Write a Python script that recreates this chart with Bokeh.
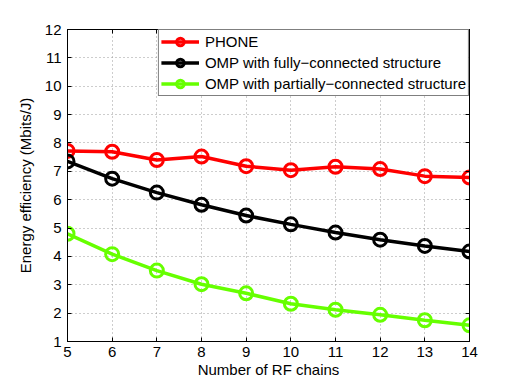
from bokeh.plotting import figure
from bokeh.models import LinearAxis, FixedTicker, Legend, LegendItem, Range1d, CustomJSTickFormatter
from bokeh.embed import file_html
from bokeh.resources import INLINE

rf_chains = [5, 6, 7, 8, 9, 10, 11, 12, 13, 14]
phone = [7.72, 7.69, 7.40, 7.52, 7.18, 7.04, 7.16, 7.08, 6.83, 6.78]
omp_full = [7.35, 6.74, 6.25, 5.82, 5.44, 5.13, 4.84, 4.59, 4.37, 4.17]
omp_partial = [4.80, 4.08, 3.50, 3.02, 2.70, 2.33, 2.12, 1.94, 1.75, 1.57]
x_ticks = [5, 6, 7, 8, 9, 10, 11, 12, 13, 14]
y_ticks = [1, 2, 3, 4, 5, 6, 7, 8, 9, 10, 11, 12]
names = ["PHONE", "OMP with fully\u2212connected structure", "OMP with partially\u2212connected structure"]
colors = ["#ff0000", "#000000", "#66ff00"]

FONT = "Liberation Sans"
FS = "15px"

p = figure(width=518, height=384, output_backend="svg", toolbar_location=None,
           x_range=Range1d(5, 14), y_range=Range1d(1, 12),
           frame_width=402, frame_height=312,
           min_border_left=67, min_border_top=29, min_border_right=49, min_border_bottom=43,
           x_axis_label="Number of RF chains", y_axis_label="Energy efficiency (Mbits/J)")
p.outline_line_color = "black"
p.outline_line_width = 1
p.background_fill_color = "white"
p.border_fill_color = "white"

for ax in [p.xaxis[0], p.yaxis[0]]:
    ax.major_tick_in = 4
    ax.major_tick_out = 0
    ax.minor_tick_line_color = None
    ax.axis_line_color = "black"
    ax.major_tick_line_color = "black"
    ax.major_label_text_font = FONT
    ax.major_label_text_font_size = FS
    ax.major_label_text_color = "black"
    ax.axis_label_text_font = FONT
    ax.axis_label_text_font_size = FS
    ax.axis_label_text_font_style = "normal"
    ax.axis_label_text_color = "black"
p.xaxis[0].ticker = FixedTicker(ticks=x_ticks)
p.yaxis[0].ticker = FixedTicker(ticks=y_ticks)
p.xaxis[0].major_label_standoff = 5
p.xaxis[0].axis_label_standoff = 1
p.yaxis[0].major_label_standoff = 6
p.yaxis[0].axis_label_standoff = 8

blank = CustomJSTickFormatter(code="return '';")
top = LinearAxis(ticker=FixedTicker(ticks=x_ticks), formatter=blank,
                 major_tick_in=4, major_tick_out=0, minor_tick_line_color=None, axis_line_color="black",
                 major_label_standoff=0)
right = LinearAxis(ticker=FixedTicker(ticks=y_ticks), formatter=blank,
                   major_tick_in=4, major_tick_out=0, minor_tick_line_color=None, axis_line_color="black",
                   major_label_standoff=0)
p.add_layout(top, "above")
p.add_layout(right, "right")

p.xgrid.ticker = FixedTicker(ticks=x_ticks)
p.ygrid.ticker = FixedTicker(ticks=y_ticks)
for g in [p.xgrid[0], p.ygrid[0]]:
    g.grid_line_color = "#9a9a9a"
    g.grid_line_dash = "1 3"
    g.grid_line_width = 1

items = []
for ys, c, n in zip([phone, omp_full, omp_partial], colors, names):
    l = p.line(rf_chains, ys, line_color=c, line_width=3.5)
    m = p.scatter(rf_chains, ys, marker="circle", size=13, line_color=c, line_width=3,
                  fill_color=None)
    items.append(LegendItem(label=n, renderers=[l, m]))

leg = Legend(items=items, location="top_right")
leg.label_text_font = FONT
leg.label_text_font_size = FS
leg.label_text_color = "black"
leg.border_line_color = "black"
leg.border_line_width = 1
leg.background_fill_color = "white"
leg.background_fill_alpha = 1
leg.glyph_width = 38
leg.glyph_height = 19
leg.spacing = 2
leg.padding = 2
leg.margin = 0
leg.label_standoff = 6
leg.label_height = 19
p.add_layout(leg)

open("out.html", "w").write(file_html(p, INLINE))
